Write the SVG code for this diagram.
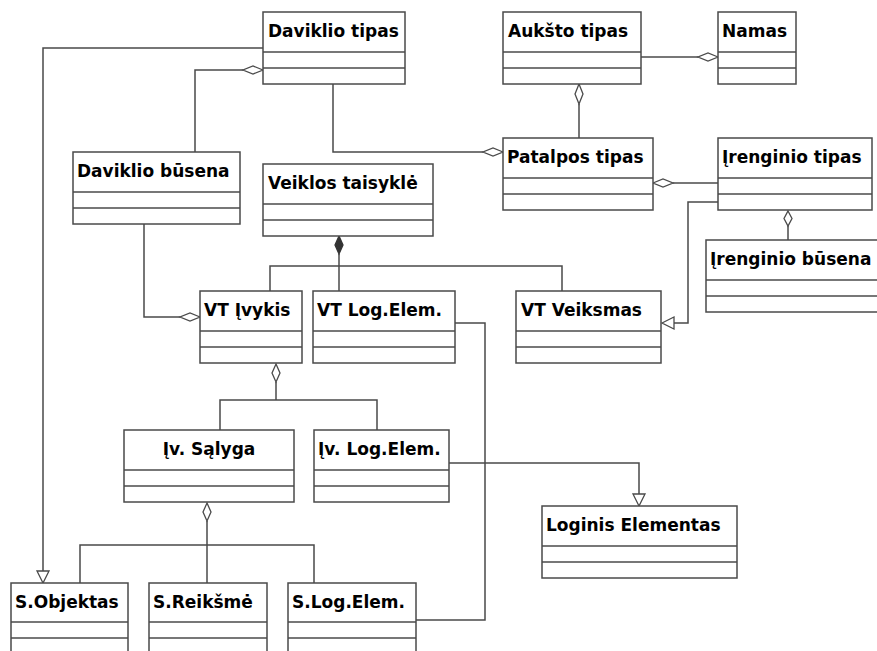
<svg xmlns="http://www.w3.org/2000/svg" width="877" height="651" viewBox="0 0 877 651">
  <style>
    .box rect { fill: #ffffff; stroke: #4a4a4a; stroke-width: 1.5; }
    .box line { stroke: #4a4a4a; stroke-width: 1.5; }
    .box text { font-family: "DejaVu Sans", "Liberation Sans", sans-serif; font-weight: bold; font-size: 17px; fill: #000000; }
    .edges path, .edges polyline { fill: none; stroke: #4a4a4a; stroke-width: 1.5; }
    .edges .agg { fill: #ffffff; stroke: #4a4a4a; stroke-width: 1.3; }
    .edges .comp { fill: #333333; stroke: #333333; stroke-width: 1.3; }
    .edges .gen { fill: #ffffff; stroke: #4a4a4a; stroke-width: 1.3; }
  </style>

  <rect width="877" height="651" fill="#ffffff"/>

  <!-- connectors -->
  <g class="edges" id="connectors">
    <!-- generalisations -->
    <polyline points="263,48 43,48 43,571"/>
    <polygon class="gen" points="43,583 37,571 49,571"/>
    <polyline points="718,202 688,202 688,323 674,323"/>
    <polygon class="gen" points="662,323 674,317 674,329"/>
    <polyline points="449,463 639,463 639,494"/>
    <polygon class="gen" points="639,506 633,494 645,494"/>

    <!-- aggregations -->
    <polyline points="195,152 195,70 243,70"/>
    <polygon class="agg" points="263,70 253,66 243,70 253,74"/>
    <polyline points="333,84 333,152 483,152"/>
    <polygon class="agg" points="503,152 493,148 483,152 493,156"/>
    <polyline points="641,57 698,57"/>
    <polygon class="agg" points="718,57 708,53 698,57 708,61"/>
    <polyline points="579,104 579,138"/>
    <polygon class="agg" points="579,84 583,94 579,104 575,94"/>
    <polyline points="718,183 673,183"/>
    <polygon class="agg" points="653,183 663,179 673,183 663,187"/>
    <polyline points="788,226 788,240"/>
    <polygon class="agg" points="788,211 792,218.5 788,226 784,218.5"/>
    <polyline points="144,224 144,317 180,317"/>
    <polygon class="agg" points="200,317 190,313 180,317 190,321"/>
    <polyline points="276,382 276,400"/>
    <polyline points="220,430 220,400 377,400 377,430"/>
    <polygon class="agg" points="276,364 280,373 276,382 272,373"/>
    <polyline points="207,521 207,583"/>
    <polyline points="80,583 80,545 314,545 314,583"/>
    <polygon class="agg" points="207,503 211,512 207,521 203,512"/>

    <!-- composition -->
    <polyline points="339,254 339,291"/>
    <polyline points="270,291 270,266 562,266 562,291"/>
    <polygon class="comp" points="339,236 343,245 339,254 335,245"/>

    <!-- plain association -->
    <polyline points="455,323 485,323 485,620 416,620"/>
  </g>

  <!-- classes -->
  <g class="box" id="daviklio-tipas">
    <rect x="263" y="12" width="142" height="72"/>
    <line x1="263" y1="52" x2="405" y2="52"/><line x1="263" y1="68" x2="405" y2="68"/>
    <text x="268" y="37">Daviklio tipas</text>
  </g>
  <g class="box" id="auksto-tipas">
    <rect x="503" y="12" width="138" height="72"/>
    <line x1="503" y1="52" x2="641" y2="52"/><line x1="503" y1="68" x2="641" y2="68"/>
    <text x="508" y="37">Aukšto tipas</text>
  </g>
  <g class="box" id="namas">
    <rect x="718" y="12" width="78" height="72"/>
    <line x1="718" y1="52" x2="796" y2="52"/><line x1="718" y1="68" x2="796" y2="68"/>
    <text x="722" y="37">Namas</text>
  </g>
  <g class="box" id="daviklio-busena">
    <rect x="73" y="152" width="167" height="72"/>
    <line x1="73" y1="192" x2="240" y2="192"/><line x1="73" y1="208" x2="240" y2="208"/>
    <text x="77" y="177">Daviklio būsena</text>
  </g>
  <g class="box" id="patalpos-tipas">
    <rect x="503" y="138" width="150" height="72"/>
    <line x1="503" y1="178" x2="653" y2="178"/><line x1="503" y1="194" x2="653" y2="194"/>
    <text x="507" y="163">Patalpos tipas</text>
  </g>
  <g class="box" id="irenginio-tipas">
    <rect x="718" y="138" width="154" height="72"/>
    <line x1="718" y1="178" x2="872" y2="178"/><line x1="718" y1="194" x2="872" y2="194"/>
    <text x="722" y="163">Įrenginio tipas</text>
  </g>
  <g class="box" id="veiklos-taisykle">
    <rect x="263" y="164" width="170" height="72"/>
    <line x1="263" y1="204" x2="433" y2="204"/><line x1="263" y1="220" x2="433" y2="220"/>
    <text x="268" y="189">Veiklos taisyklė</text>
  </g>
  <g class="box" id="irenginio-busena">
    <rect x="706" y="240" width="176" height="72"/>
    <line x1="706" y1="280" x2="882" y2="280"/><line x1="706" y1="296" x2="882" y2="296"/>
    <text x="710" y="265">Įrenginio būsena</text>
  </g>
  <g class="box" id="vt-ivykis">
    <rect x="200" y="291" width="102" height="72"/>
    <line x1="200" y1="331" x2="302" y2="331"/><line x1="200" y1="347" x2="302" y2="347"/>
    <text x="204" y="316">VT Įvykis</text>
  </g>
  <g class="box" id="vt-log-elem">
    <rect x="313" y="291" width="142" height="72"/>
    <line x1="313" y1="331" x2="455" y2="331"/><line x1="313" y1="347" x2="455" y2="347"/>
    <text x="317" y="316">VT Log.Elem.</text>
  </g>
  <g class="box" id="vt-veiksmas">
    <rect x="516" y="291" width="145" height="72"/>
    <line x1="516" y1="331" x2="661" y2="331"/><line x1="516" y1="347" x2="661" y2="347"/>
    <text x="521" y="316">VT Veiksmas</text>
  </g>
  <g class="box" id="iv-salyga">
    <rect x="124" y="430" width="170" height="72"/>
    <line x1="124" y1="470" x2="294" y2="470"/><line x1="124" y1="486" x2="294" y2="486"/>
    <text x="209" y="455" text-anchor="middle">Įv. Sąlyga</text>
  </g>
  <g class="box" id="iv-log-elem">
    <rect x="314" y="430" width="135" height="72"/>
    <line x1="314" y1="470" x2="449" y2="470"/><line x1="314" y1="486" x2="449" y2="486"/>
    <text x="318" y="455">Įv. Log.Elem.</text>
  </g>
  <g class="box" id="loginis-elementas">
    <rect x="542" y="506" width="195" height="72"/>
    <line x1="542" y1="546" x2="737" y2="546"/><line x1="542" y1="562" x2="737" y2="562"/>
    <text x="546" y="531">Loginis Elementas</text>
  </g>
  <g class="box" id="s-objektas">
    <rect x="11" y="583" width="117" height="72"/>
    <line x1="11" y1="622" x2="128" y2="622"/><line x1="11" y1="638" x2="128" y2="638"/>
    <text x="15" y="608">S.Objektas</text>
  </g>
  <g class="box" id="s-reiksme">
    <rect x="149" y="583" width="118" height="72"/>
    <line x1="149" y1="622" x2="267" y2="622"/><line x1="149" y1="638" x2="267" y2="638"/>
    <text x="153" y="608">S.Reikšmė</text>
  </g>
  <g class="box" id="s-log-elem">
    <rect x="288" y="583" width="128" height="72"/>
    <line x1="288" y1="622" x2="416" y2="622"/><line x1="288" y1="638" x2="416" y2="638"/>
    <text x="292" y="608">S.Log.Elem.</text>
  </g>
</svg>
